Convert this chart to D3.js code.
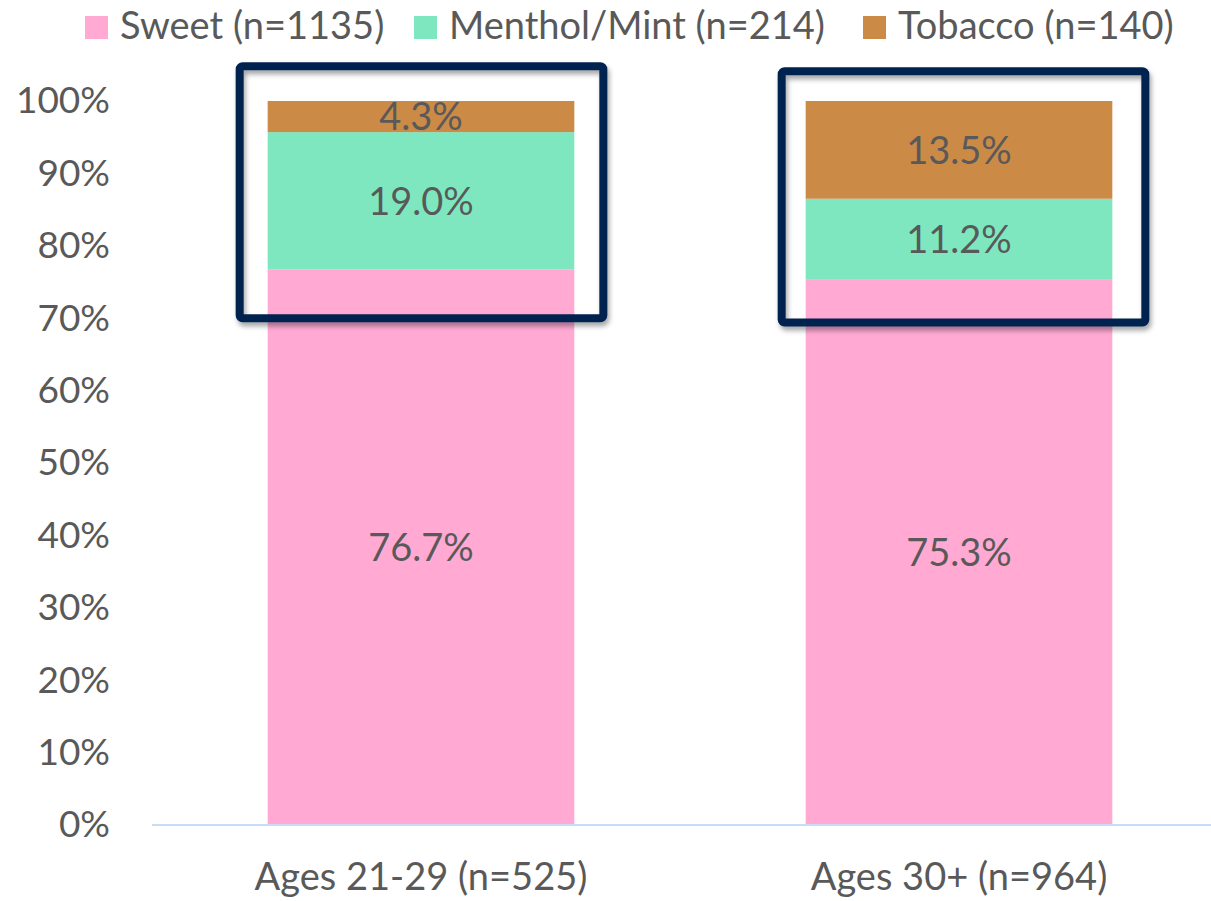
<!DOCTYPE html>
<html>
<head>
<meta charset="utf-8">
<script src="https://cdn.jsdelivr.net/npm/d3@7"></script>
<style>
  body { margin: 0; background: #fff; }
  text { font-family: Lato, "Open Sans", sans-serif; fill: #595959; }
</style>
</head>
<body>
<svg id="chart" width="1211" height="901"></svg>
<script>
const categories = ["Ages 21-29 (n=525)", "Ages 30+ (n=964)"];
const seriesNames = ["Sweet (n=1135)", "Menthol/Mint (n=214)", "Tobacco (n=140)"];
const sweet = [76.7, 75.3];
const menthol = [19.0, 11.2];
const tobacco = [4.3, 13.5];
const yTicks = [0, 10, 20, 30, 40, 50, 60, 70, 80, 90, 100];

const colors = ["#ffa9d3", "#7ee7c0", "#cc8a47"];
const navy = "#00214f";

const svg = d3.select("#chart");

// blur for the box shadow
svg.append("defs").append("filter")
  .attr("id", "shadow")
  .attr("x", "-10%").attr("y", "-10%").attr("width", "120%").attr("height", "130%")
  .append("feDropShadow")
  .attr("dx", 2).attr("dy", 4).attr("stdDeviation", 2.5)
  .attr("flood-color", "#000").attr("flood-opacity", 0.35);

const x = d3.scaleBand()
  .domain(categories)
  .range([152, 1228])
  .paddingInner(0.43)
  .paddingOuter(0.215);

const y = d3.scaleLinear().domain([0, 100]).range([825, 101]);

const rows = categories.map((c, i) => ({ cat: c, sweet: sweet[i], menthol: menthol[i], tobacco: tobacco[i] }));
const stack = d3.stack().keys(["sweet", "menthol", "tobacco"])(rows);

const layers = svg.append("g").selectAll("g")
  .data(stack)
  .join("g")
  .attr("fill", (d, i) => colors[i]);

layers.selectAll("rect")
  .data(d => d)
  .join("rect")
  .attr("x", d => x(d.data.cat))
  .attr("width", x.bandwidth())
  .attr("y", d => y(d[1]))
  .attr("height", d => y(d[0]) - y(d[1]));

layers.selectAll("text")
  .data(d => d.map(v => ({ v, key: d.key })))
  .join("text")
  .attr("x", d => x(d.v.data.cat) + x.bandwidth() / 2)
  .attr("y", d => (y(d.v[0]) + y(d.v[1])) / 2)
  .attr("dy", "0.36em")
  .attr("text-anchor", "middle")
  .attr("font-size", 38)
  .text(d => d.v.data[d.key].toFixed(1) + "%");

// x axis baseline
svg.append("line")
  .attr("x1", 152).attr("x2", 1211)
  .attr("y1", y(0)).attr("y2", y(0))
  .attr("stroke", "#c6dcf7").attr("stroke-width", 2);

// y axis labels
const yAxis = svg.append("g")
  .attr("transform", "translate(152,0)")
  .call(d3.axisLeft(y).tickValues(yTicks).tickSize(0).tickPadding(42).tickFormat(d => d + "%"));
yAxis.select(".domain").remove();
yAxis.selectAll("text")
  .attr("font-size", 37)
  .attr("font-family", "Lato, 'Open Sans', sans-serif")
  .attr("fill", "#595959");

// category labels
svg.append("g").selectAll("text")
  .data(categories)
  .join("text")
  .attr("x", d => x(d) + x.bandwidth() / 2)
  .attr("y", 890)
  .attr("text-anchor", "middle")
  .attr("font-size", 38)
  .text(d => d);

// highlight boxes round the upper part of each bar
const boxTop = [104.8, 104.1];
const boxBottom = [70.0, 69.4];
const boxPadLeft = [28, 24];
const boxPadRight = [29, 33];
svg.append("g").selectAll("rect")
  .data(categories)
  .join("rect")
  .attr("x", (d, i) => x(d) - boxPadLeft[i])
  .attr("y", (d, i) => y(boxTop[i]))
  .attr("width", (d, i) => x.bandwidth() + boxPadLeft[i] + boxPadRight[i])
  .attr("height", (d, i) => y(boxBottom[i]) - y(boxTop[i]))
  .attr("rx", 3)
  .attr("fill", "none")
  .attr("stroke", navy)
  .attr("stroke-width", 8)
  .attr("filter", "url(#shadow)");

// legend
const legendX = [85, 414, 863];
const legend = svg.append("g").selectAll("g")
  .data(seriesNames)
  .join("g")
  .attr("transform", (d, i) => `translate(${legendX[i]},0)`);
legend.append("rect")
  .attr("x", 0).attr("y", 16)
  .attr("width", 23).attr("height", 23)
  .attr("fill", (d, i) => colors[i]);
legend.append("text")
  .attr("x", 35).attr("y", 39)
  .attr("font-size", 38)
  .text(d => d);
</script>
</body>
</html>
